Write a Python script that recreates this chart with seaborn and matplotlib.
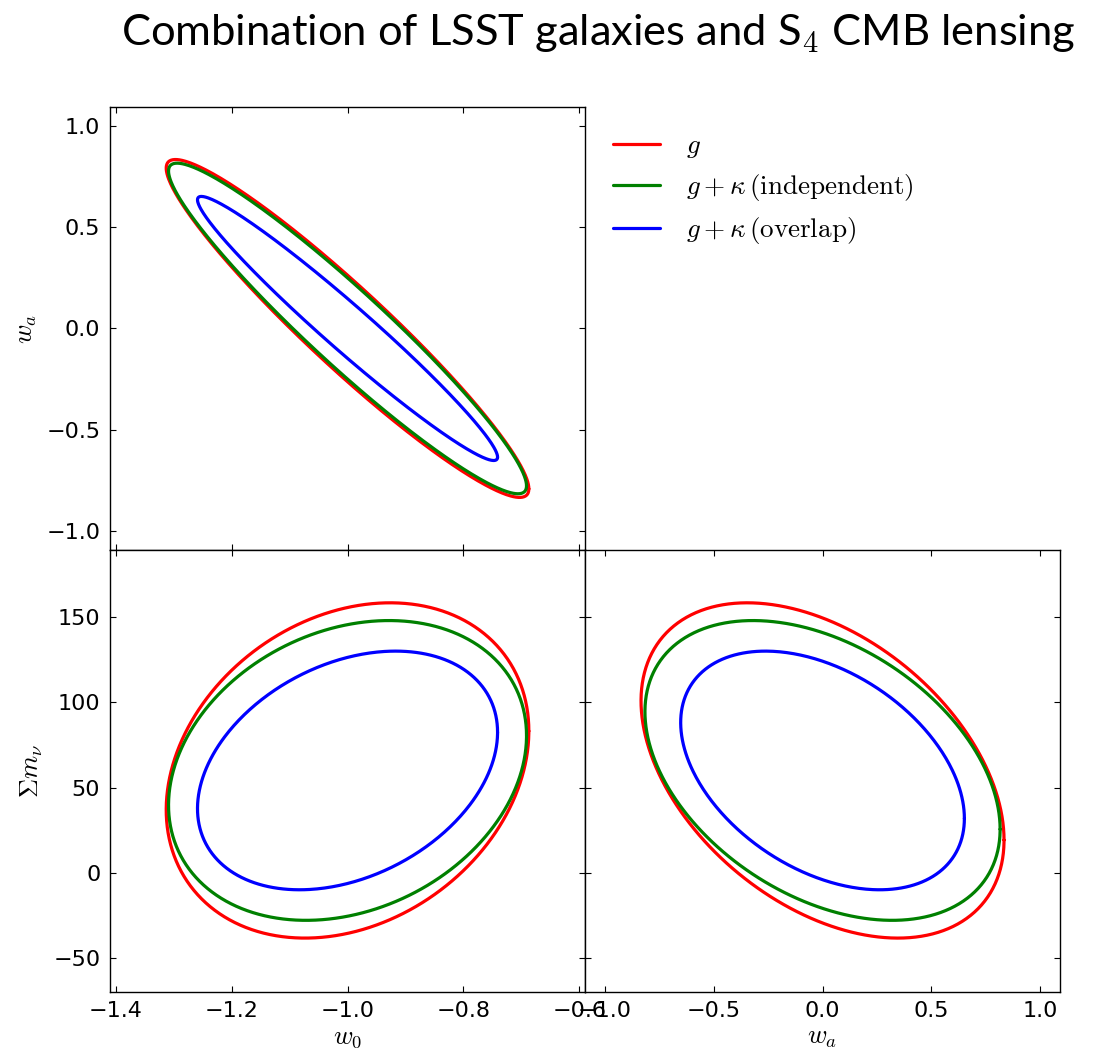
import numpy as np
import pandas as pd
import matplotlib
matplotlib.use("Agg")
import matplotlib.pyplot as plt
import seaborn as sns

# %% style: old matplotlib look (ticks inside on every side, cm math)
sns.set_style("ticks")
plt.rcParams['font.family'] = ['DejaVu Sans']
plt.rcParams['mathtext.fontset'] = 'cm'
plt.rcParams['text.color'] = 'black'
plt.rcParams['axes.labelcolor'] = 'black'
plt.rcParams['axes.edgecolor'] = 'black'
plt.rcParams['axes.linewidth'] = 1.0
plt.rcParams['xtick.direction'] = 'in'
plt.rcParams['ytick.direction'] = 'in'
plt.rcParams['xtick.top'] = True
plt.rcParams['ytick.right'] = True
plt.rcParams['xtick.major.size'] = 4
plt.rcParams['ytick.major.size'] = 4
plt.rcParams['xtick.major.width'] = 0.8
plt.rcParams['ytick.major.width'] = 0.8
plt.rcParams['xtick.color'] = 'black'
plt.rcParams['ytick.color'] = 'black'
plt.rcParams['xtick.labelsize'] = 16
plt.rcParams['ytick.labelsize'] = 16
plt.rcParams['xtick.major.pad'] = 7
plt.rcParams['ytick.major.pad'] = 7

# %% data: fiducial values and 1-sigma ellipse sizes
series = [r'$g$', r'$g+\kappa\,(\mathrm{independent})$', r'$g+\kappa\,(\mathrm{overlap})$']
colors = ['red', 'green', 'blue']

fid_w0 = -1.0
fid_wa = 0.0
fid_mnu = 60.0

ext_w0 = [0.313, 0.309, 0.259]       # half-width of contour along w0
ext_wa = [0.833, 0.815, 0.651]       # half-width along wa
ext_mnu = [98.2, 87.8, 69.9]         # half-width along sum m_nu
rho_w0_wa = [-0.949, -0.952, -0.974]
rho_w0_mnu = [0.235, 0.232, 0.32]
rho_wa_mnu = [-0.415, -0.392, -0.402]


def ellipse(cx, cy, ex, ey, rho, n=500):
    t = np.linspace(0, 2 * np.pi, n)
    x = cx + ex * np.cos(t)
    y = cy + ey * (rho * np.cos(t) + np.sqrt(1 - rho ** 2) * np.sin(t))
    return x, y


def contour_df(cx, cy, ex, ey, rho):
    frames = []
    for i, lab in enumerate(series):
        x, y = ellipse(cx, cy, ex[i], ey[i], rho[i])
        frames.append(pd.DataFrame({'x': x, 'y': y, 'series': lab}))
    return pd.concat(frames, ignore_index=True)


df_w0_wa = contour_df(fid_w0, fid_wa, ext_w0, ext_wa, rho_w0_wa)
df_w0_mnu = contour_df(fid_w0, fid_mnu, ext_w0, ext_mnu, rho_w0_mnu)
df_wa_mnu = contour_df(fid_wa, fid_mnu, ext_wa, ext_mnu, rho_wa_mnu)

# %% figure
fig = plt.figure(figsize=(10.97, 10.56), dpi=100)
w, h = 0.433, 0.4187
ax1 = fig.add_axes([0.1003, 0.4796, w, h])
ax2 = fig.add_axes([0.1003, 0.0609, w, h])
ax3 = fig.add_axes([0.5333, 0.0609, w, h])

pal = dict(zip(series, colors))
for ax, d in [(ax1, df_w0_wa), (ax2, df_w0_mnu), (ax3, df_wa_mnu)]:
    sns.lineplot(data=d, x='x', y='y', hue='series', palette=pal, sort=False,
                 estimator=None, linewidth=2.3, ax=ax, legend=False)
    ax.set_xlabel('')
    ax.set_ylabel('')

w0_lim = (-1.41, -0.59)
wa_lim = (-1.09, 1.09)
mnu_lim = (-69.6, 189.4)

ax1.set_xlim(w0_lim)
ax1.set_ylim(wa_lim)
ax1.set_xticks(np.arange(-1.4, -0.55, 0.2))
ax1.set_yticks([-1.0, -0.5, 0.0, 0.5, 1.0])
ax1.tick_params(labelbottom=False)
ax1.set_ylabel(r'$w_a$', fontsize=19, labelpad=5)

ax2.set_xlim(w0_lim)
ax2.set_ylim(mnu_lim)
ax2.set_xticks(np.arange(-1.4, -0.55, 0.2))
ax2.set_yticks([-50, 0, 50, 100, 150])
ax2.set_xlabel(r'$w_0$', fontsize=19, labelpad=2)
ax2.set_ylabel(r'$\Sigma m_\nu$', fontsize=19, labelpad=6)

ax3.set_xlim(wa_lim)
ax3.set_ylim(mnu_lim)
ax3.set_xticks([-1.0, -0.5, 0.0, 0.5, 1.0])
ax3.set_yticks([-50, 0, 50, 100, 150])
ax3.tick_params(labelleft=False)
ax3.set_xlabel(r'$w_a$', fontsize=19, labelpad=2)

handles = ax1.get_lines()[:3]
fig.legend(handles, series, loc='upper left', bbox_to_anchor=(613 / 1097, 1 - 133 / 1056),
           frameon=False, fontsize=19.5, handlelength=1.75, handletextpad=0.95,
           borderpad=0, borderaxespad=0, labelspacing=0.45)

fig.text(0.5455, 0.988, 'Combination of LSST galaxies and S' + r'$_\mathsf{4}$' + ' CMB lensing',
         ha='center', va='top', fontsize=31.3, family=['Lato', 'DejaVu Sans'])

fig.savefig('out.png', dpi=100, facecolor='white')
